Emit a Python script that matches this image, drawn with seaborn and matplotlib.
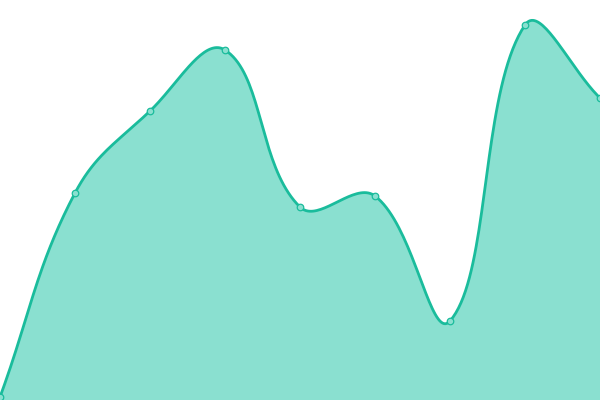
import matplotlib
matplotlib.use("Agg")
import matplotlib.pyplot as plt
import seaborn as sns
import numpy as np
import pandas as pd

# values (plot area is 0..400 tall)
steps = [0, 1, 2, 3, 4, 5, 6, 7, 8]
values = [3, 207, 289, 350, 193, 204, 79, 375, 302]

line_col = "#1abc9c"
fill_col = "#8ae0d0"
tension = 0.4
xscale = 75.0  # pixel width of one step, used so the smoothing matches screen space


def smooth_curve(xs, ys, t=tension, n=40):
    # bezier smoothing through every point (control points from neighbours)
    px = np.array(xs, float) * xscale
    py = np.array(ys, float)
    cps = []
    for i in range(len(px)):
        prv = max(i - 1, 0)
        nxt = min(i + 1, len(px) - 1)
        d01 = np.hypot(px[i] - px[prv], py[i] - py[prv])
        d12 = np.hypot(px[nxt] - px[i], py[nxt] - py[i])
        s = d01 + d12
        fa = t * d01 / s if s else 0
        fb = t * d12 / s if s else 0
        vx, vy = px[nxt] - px[prv], py[nxt] - py[prv]
        cps.append(((px[i] - fa * vx, py[i] - fa * vy), (px[i] + fb * vx, py[i] + fb * vy)))
    outx, outy = [], []
    u = np.linspace(0, 1, n)
    for i in range(len(px) - 1):
        p0 = np.array([px[i], py[i]])
        p1 = np.array(cps[i][1])
        p2 = np.array(cps[i + 1][0])
        p3 = np.array([px[i + 1], py[i + 1]])
        pts = ((1 - u) ** 3)[:, None] * p0 + (3 * (1 - u) ** 2 * u)[:, None] * p1 \
            + (3 * (1 - u) * u ** 2)[:, None] * p2 + (u ** 3)[:, None] * p3
        outx.extend(pts[:, 0] / xscale)
        outy.extend(pts[:, 1])
    return np.array(outx), np.array(outy)


sns.set_style("white")
fig = plt.figure(figsize=(6, 4), dpi=100)
ax = fig.add_axes([0, 0, 1, 1])

cx, cy = smooth_curve(steps, values)
curve = pd.DataFrame({"x": cx, "y": cy})
pts = pd.DataFrame({"x": steps, "y": values})

ax.fill_between(cx, 0, cy, color=fill_col, lw=0)
sns.lineplot(data=curve, x="x", y="y", ax=ax, color=line_col, lw=2.0, sort=False)
sns.scatterplot(data=pts, x="x", y="y", ax=ax, s=22, color=fill_col,
                edgecolor=line_col, linewidth=0.9, zorder=5)

ax.set_xlim(0, 8)
ax.set_ylim(0, 400)
ax.axis("off")

fig.savefig("out.png", dpi=100)
